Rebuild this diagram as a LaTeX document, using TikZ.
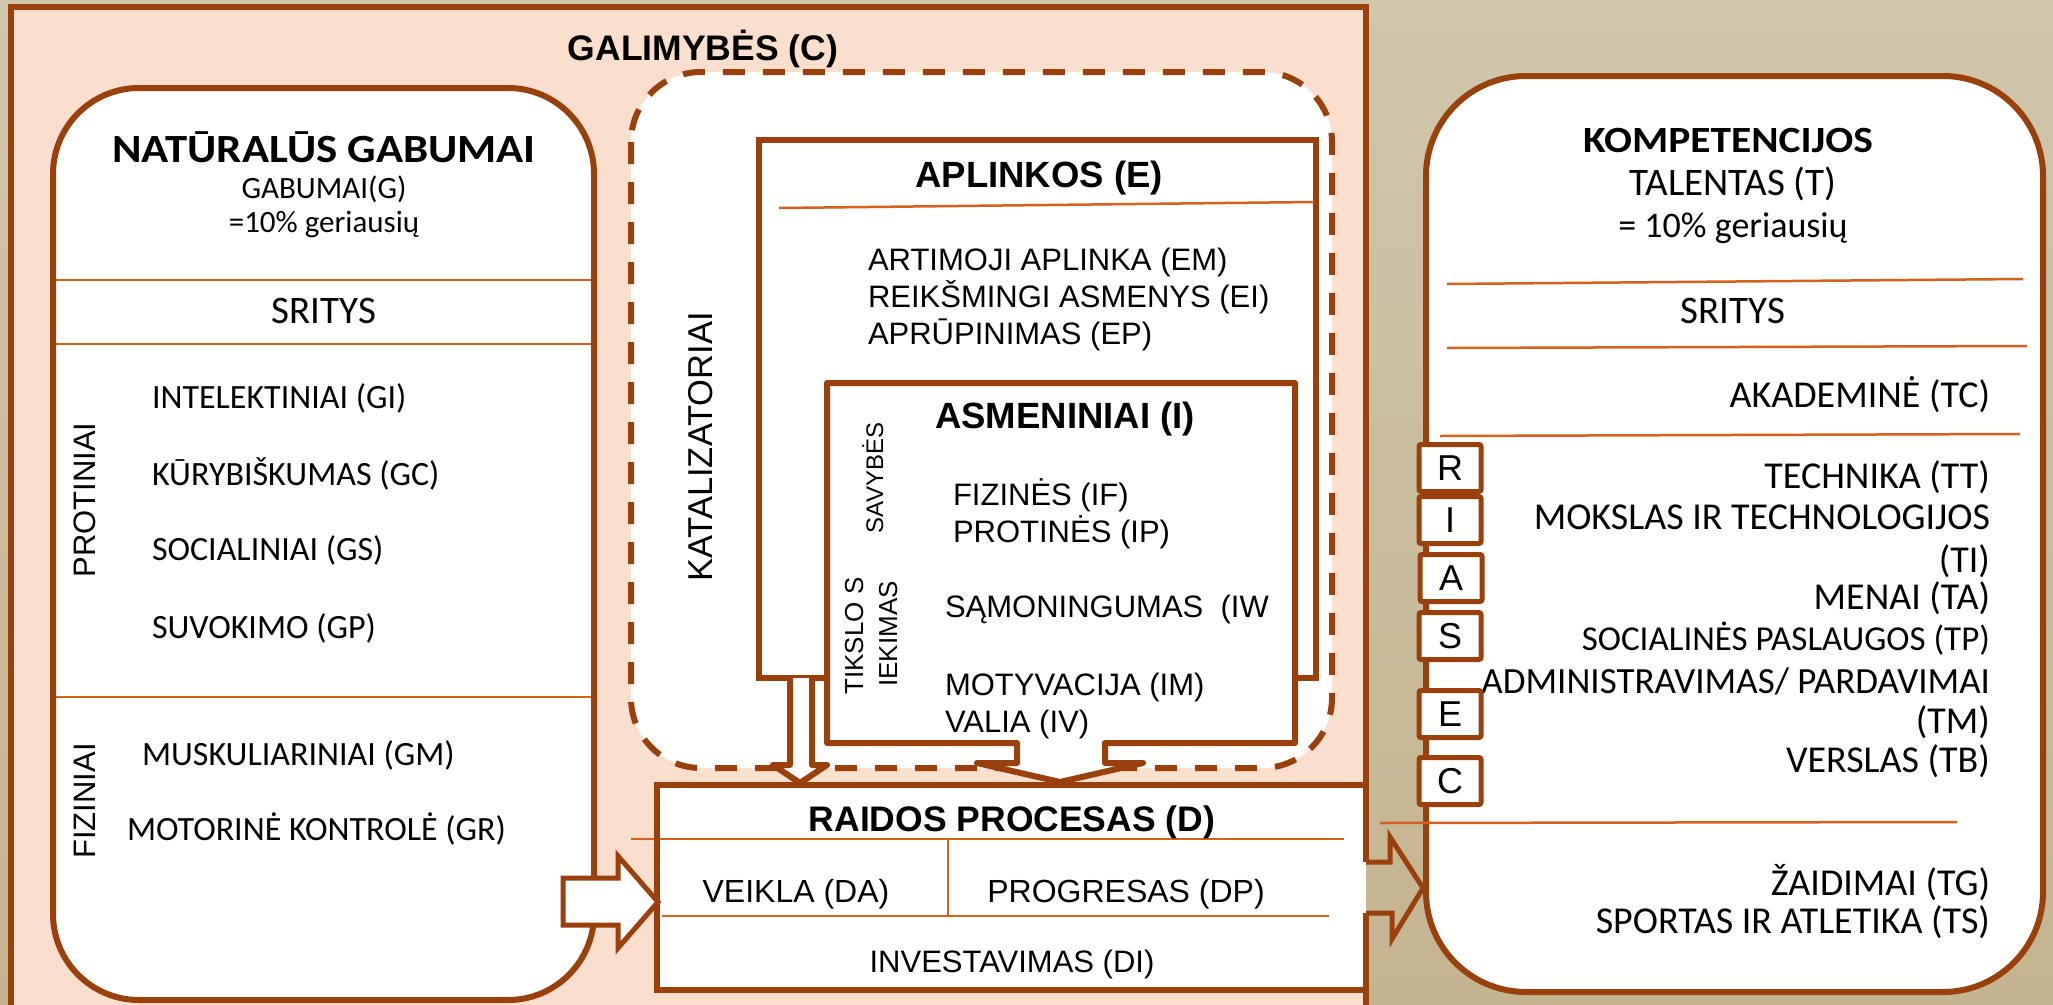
\documentclass[tikz,border=0pt]{standalone}
\usepackage{fontspec}
\newfontfamily\gillf{Carlito}
\newfontfamily\gillb[FakeStretch=1.12]{Carlito}
\newfontfamily\arialf{Liberation Sans}
\newcommand\fsz[1]{\fontsize{#1}{#1}\selectfont}
\definecolor{brownc}{RGB}{153,64,12}
\definecolor{orangec}{RGB}{214,96,30}
\definecolor{peach}{RGB}{250,223,206}
\definecolor{tantop}{RGB}{207,198,172}
\definecolor{tanbot}{RGB}{197,180,144}
\tikzset{
  brd/.style={draw=brownc, line width=6pt},
  thinb/.style={draw=brownc, line width=5pt},
  oline/.style={draw=orangec, line width=2.5pt},
  t/.style={inner sep=0pt, outer sep=0pt, text=black},
  gtx/.style={t, font=\gillf\fsz{34}},
  gtr/.style={t, font=\gillf\fsz{38}},
  gbold/.style={t, font=\gillb\bfseries\fsz{37}},
  atx/.style={t, font=\arialf\fsz{31}},
  abold/.style={t, font=\arialf\bfseries\fsz{35.5}},
  rbox/.style={draw=brownc, line width=5pt, fill=white, rounded corners=2pt,
    minimum width=62pt, minimum height=47pt, inner sep=0pt, font=\arialf\fsz{36}},
}
\begin{document}
\begin{tikzpicture}[x=1pt,y=-1pt]
\clip (0,0) rectangle (2053,1004);
\shade[top color=tantop, bottom color=tanbot] (0,0) rectangle (2053,1004);
% outer GALIMYBES area
\fill[peach] (11,7) rectangle (1366,1015);
\draw[brd] (11,1015) -- (11,7) -- (1366,7) -- (1366,862);
\draw[brd] (1366,913) -- (1366,1015);
\node[abold, anchor=base] (galim) at (703,60) {GALIMYBĖS (C)};

% left box: natural abilities
\fill[white, rounded corners=86pt] (53,88) rectangle (594,1000);
\draw[oline] (53,280) -- (594,280);
\draw[oline] (53,344) -- (594,344);
\draw[oline] (53,697) -- (594,697);
\draw[brd, rounded corners=86pt] (53,88) rectangle (594,1000);

\node[gbold, font=\gillb\bfseries\fsz{40}, anchor=base] (ngt) at (324,162) {NATŪRALŪS GABUMAI};
\node[t, font=\gillf\fsz{31}, anchor=base] (ngg) at (324,198) {GABUMAI(G)};
\node[t, font=\gillf\fsz{31}, anchor=base] (ngp) at (324,232) {=10\% geriausių};
\node[t, font=\gillf\fsz{39}, anchor=base] (ngs) at (324,323) {SRITYS};
\node[gtx, anchor=base west] (gi) at (152,408) {INTELEKTINIAI (GI)};
\node[gtx, anchor=base west] (gc) at (152,485) {KŪRYBIŠKUMAS (GC)};
\node[gtx, anchor=base west] (gs) at (152,560) {SOCIALINIAI (GS)};
\node[gtx, anchor=base west] (gp) at (152,638) {SUVOKIMO (GP)};
\node[gtx, anchor=base west] (gm) at (142,765) {MUSKULIARINIAI (GM)};
\node[gtx, anchor=base west] (gr) at (127,840) {MOTORINĖ KONTROLĖ (GR)};
\node[atx, rotate=90, anchor=base] (prot) at (95,500) {PROTINIAI};
\node[atx, rotate=90, anchor=base] (fiz) at (95,801) {FIZINIAI};

% right box: competencies
\draw[brd, fill=white, rounded corners=100pt] (1426,76) rectangle (2043,992);
\draw[oline] (1447,284) -- (2023,279);
\draw[oline] (1447,348) -- (2027,346);
\draw[oline] (1440,436) -- (2020,434);
\draw[oline] (1380,823) -- (1957,822);
\node[gbold, anchor=base] (kt) at (1728,152) {KOMPETENCIJOS};
\node[t, font=\gillf\fsz{39}, anchor=base] (ktal) at (1733,195) {TALENTAS (T)};
\node[t, font=\gillf\fsz{36}, anchor=base] (kp) at (1733,237) {= 10\% geriausių};
\node[t, font=\gillf\fsz{39}, anchor=base] (ks) at (1733,323) {SRITYS};
\node[gtr, anchor=base east] (tc) at (1990,407) {AKADEMINĖ (TC)};
\node[gtr, anchor=base east] (tt) at (1990,488) {TECHNIKA (TT)};
\node[gtr, anchor=base east] (ti1) at (1990,529) {MOKSLAS IR TECHNOLOGIJOS};
\node[gtr, anchor=base east] (ti2) at (1990,572) {(TI)};
\node[gtr, anchor=base east] (ta) at (1990,609) {MENAI (TA)};
\node[gtr, font=\gillf\fsz{35}, anchor=base east] (tp) at (1990,650) {SOCIALINĖS PASLAUGOS (TP)};
\node[gtr, font=\gillf\fsz{37}, anchor=base east] (tm1) at (1990,693) {ADMINISTRAVIMAS/ PARDAVIMAI};
\node[gtr, anchor=base east] (tm2) at (1990,733) {(TM)};
\node[gtr, anchor=base east] (tb) at (1990,772) {VERSLAS (TB)};
\node[gtr, anchor=base east] (tg) at (1990,895) {ŽAIDIMAI (TG)};
\node[gtr, anchor=base east] (ts) at (1990,933) {SPORTAS IR ATLETIKA (TS)};

\node[rbox] (rR) at (1450,468) {R};
\node[rbox] (rI) at (1450,520) {I};
\node[rbox] (rA) at (1451,578) {A};
\node[rbox] (rS) at (1450,636) {S};
\node[rbox] (rE) at (1450,714) {E};
\node[rbox] (rC) at (1450,781) {C};

% catalysts dashed box
\draw[brd, fill=white, dash pattern=on 22pt off 18pt, rounded corners=70pt] (631,72) rectangle (1332,768);
\node[t, font=\arialf\fsz{34.5}, rotate=90, anchor=base] (kat) at (712,447) {KATALIZATORIAI};

% environmental box
\draw[brd, fill=white] (759,140) rectangle (1316,678);
\draw[oline] (779,208) -- (1314,202);
\node[abold, font=\arialf\bfseries\fsz{36.5}, anchor=base] (apl) at (1039,187) {APLINKOS (E)};
\node[atx, anchor=base west] (em) at (868,270) {ARTIMOJI APLINKA (EM)};
\node[atx, anchor=base west] (ei) at (868,307) {REIKŠMINGI ASMENYS (EI)};
\node[atx, anchor=base west] (ep) at (868,344) {APRŪPINIMAS (EP)};

% intrapersonal box with arrow
\draw[brd, fill=white, line join=round] (827,383) -- (1295,383) -- (1295,743) -- (1105,743) -- (1105,763) -- (1143,763) -- (1060,782) -- (977,763) -- (1017,763) -- (1017,743) -- (827,743) -- cycle;
\node[abold, font=\arialf\bfseries\fsz{36.5}, anchor=base] (asm) at (1065,428) {ASMENINIAI (I)};
\node[t, font=\arialf\fsz{24}, rotate=90, anchor=base] (sav) at (883,478) {SAVYBĖS};
\node[t, font=\arialf\fsz{26}, rotate=90, anchor=base] (tik) at (863,636) {TIKSLO S};
\node[t, font=\arialf\fsz{26}, rotate=90, anchor=base] (iek) at (897,634) {IEKIMAS};
\node[atx, anchor=base west] (if) at (953,505) {FIZINĖS (IF)};
\node[atx, anchor=base west] (ip) at (953,542) {PROTINĖS (IP)};
\node[atx, anchor=base west] (iw) at (945,617) {SĄMONINGUMAS\ \ (IW};
\node[atx, anchor=base west] (im) at (945,695) {MOTYVACIJA (IM)};
\node[atx, anchor=base west] (iv) at (945,732) {VALIA (IV)};

% environment arrow down
\draw[brd, fill=white, line join=round] (790,678) -- (790,765) -- (773,765) -- (800,783) -- (827,765) -- (812,765) -- (812,678);

% development process box
\fill[white] (657,785) rectangle (1366,990);
\draw[oline] (631,839) -- (1344,839);
\draw[oline] (948,839) -- (948,916);
\draw[oline] (662,916) -- (1329,916);
\draw[brd] (1366,862) -- (1366,785) -- (657,785) -- (657,990) -- (1366,990) -- (1366,913);
\node[abold, anchor=base] (rp) at (1012,831) {RAIDOS PROCESAS (D)};
\node[t, font=\arialf\fsz{32}, anchor=base] (da) at (796,902) {VEIKLA (DA)};
\node[t, font=\arialf\fsz{32}, anchor=base] (dp) at (1126,902) {PROGRESAS (DP)};
\node[t, font=\arialf\fsz{31}, anchor=base] (di) at (1012,972) {INVESTAVIMAS (DI)};

% block arrows
\draw[thinb, fill=white] (563,878) -- (618,878) -- (618,856) -- (658,902) -- (618,948) -- (618,925) -- (563,925) -- cycle;
\draw[thinb] (1366,862) -- (1390,862) -- (1390,837) -- (1423,888) -- (1392,939) -- (1392,913) -- (1366,913);
\end{tikzpicture}
\end{document}
